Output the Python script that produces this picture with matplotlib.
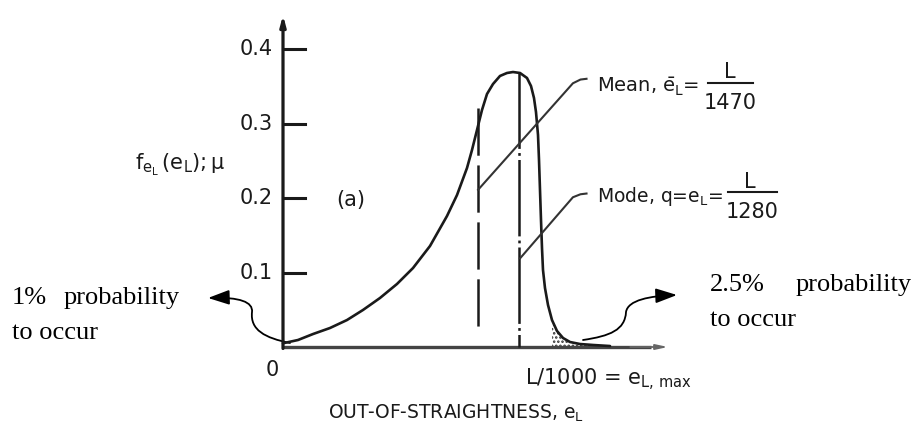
import matplotlib
matplotlib.use("Agg")
import matplotlib.pyplot as plt
from matplotlib.path import Path
from matplotlib.patches import FancyArrowPatch
import numpy as np

plt.rcParams['mathtext.default'] = 'regular'
plt.rcParams['lines.scale_dashes'] = False

# ---- data (x in units of L/1000, y = density * mu) ----
curve_x = [0.000, 0.0497, 0.0993, 0.1556, 0.2119, 0.2649, 0.3212, 0.3775, 0.4305, 0.4868,
           0.5430, 0.5762, 0.6093, 0.6258, 0.6424, 0.6589, 0.6755, 0.6954, 0.7185, 0.7417,
           0.7616, 0.7848, 0.8079, 0.8212, 0.8311, 0.8377, 0.8444, 0.8477, 0.8510, 0.8543,
           0.8576, 0.8609, 0.8675, 0.8775, 0.8907, 0.9073, 0.9272, 0.9503, 0.9834, 1.0265,
           1.0828]
curve_y = [0.005, 0.0094, 0.0174, 0.0255, 0.0362, 0.0497, 0.0658, 0.0846, 0.1060, 0.1356,
           0.1758, 0.2040, 0.2403, 0.2644, 0.2913, 0.3181, 0.3396, 0.3530, 0.3638, 0.3678,
           0.3691, 0.3678, 0.3611, 0.3503, 0.3342, 0.3154, 0.2846, 0.2510, 0.2107, 0.1705,
           0.1329, 0.1034, 0.0792, 0.0564, 0.0362, 0.0215, 0.0121, 0.0067, 0.0040, 0.0027,
           0.0013]
mean_x = 0.646
mean_top = 0.321
mode_x = 0.781
mode_top = 0.369
tail_start = 0.89
y_ticks = [0.1, 0.2, 0.3, 0.4]
y_tick_labels = ["0.1", "0.2", "0.3", "0.4"]

fig = plt.figure(figsize=(9.14, 4.30), dpi=100)
ax = fig.add_axes([0, 0, 1, 1])
ax.set_xlim(-283 / 302, (914 - 283) / 302)
ax.set_ylim((347 - 430) / 745, 347 / 745)
ax.axis('off')

ink = '#1a1a1a'
lead = '#333333'

# axes
ax.annotate('', xy=(0, 0.4456), xytext=(0, -0.002),
            arrowprops=dict(arrowstyle='-|>,head_length=0.6,head_width=0.16', lw=2.3, color=ink,
                            shrinkA=0, shrinkB=0))
ax.plot([-0.003, 1.22], [0, 0], color='#444444', lw=2.4, solid_capstyle='butt')
ax.annotate('', xy=(1.275, 0), xytext=(1.15, 0),
            arrowprops=dict(arrowstyle='-|>,head_length=0.7,head_width=0.15', lw=1.3, color='#666666',
                            shrinkA=0, shrinkB=0))
for t, lab in zip(y_ticks, y_tick_labels):
    ax.plot([0, 0.073], [t, t], color=ink, lw=2.2)
    ax.text(-0.033, t, lab, ha='right', va='center', fontsize=15, color=ink)
ax.text(-0.036, -0.031, "0", ha='center', va='center', fontsize=15, color=ink)

# curve
ax.plot(curve_x, curve_y, color=ink, lw=1.9, solid_joinstyle='round', solid_capstyle='round')

# tail stipple
cx = np.array(curve_x)
cy = np.array(curve_y)
m = cx >= tail_start
plt.rcParams['hatch.linewidth'] = 1.2
ax.fill_between(cx[m], 0, cy[m], facecolor='none', edgecolor='#333333', hatch='....', lw=0)

# mean (dashed) and mode (dash-dot) lines
l1, = ax.plot([mean_x, mean_x], [mean_top, 0.018], color=ink, lw=1.8)
l1.set_dashes([34, 7])
l2, = ax.plot([mode_x, mode_x], [mode_top, 0.0], color=ink, lw=1.8)
l2.set_dashes([55, 3, 2, 3])

# leader lines
ax.plot([mean_x, 0.960, 0.985, 1.005], [0.211, 0.354, 0.359, 0.360], color=lead, lw=1.5)
ax.plot([0.785, 0.960, 0.985, 1.005], [0.119, 0.201, 0.205, 0.206], color=lead, lw=1.5)

# right side labels
fs = 15
ax.text(1.040, 0.349, r"Mean, $\bar{e}_L$=", ha='left', va='center', fontsize=14, color=ink)
ax.text(1.480, 0.369, "L", ha='center', va='center', fontsize=fs, color=ink)
ax.plot([1.407, 1.556], [0.354, 0.354], color=ink, lw=1.5)
ax.text(1.480, 0.3275, "1470", ha='center', va='center', fontsize=fs, color=ink)

ax.text(1.040, 0.202, r"Mode, q=$e_L$=", ha='left', va='center', fontsize=13.5, color=ink)
ax.text(1.546, 0.222, "L", ha='center', va='center', fontsize=fs, color=ink)
ax.plot([1.473, 1.636], [0.208, 0.208], color=ink, lw=1.5)
ax.text(1.553, 0.181, "1280", ha='center', va='center', fontsize=fs, color=ink)

ax.text(0.225, 0.197, "(a)", ha='center', va='center', fontsize=15, color=ink)
ax.text(-0.341, 0.244, r"$f_{e_L}\,(e_L);\mu$", ha='center', va='center', fontsize=15, color=ink)

ax.text(0.801, -0.0443, r"L/1000 = $e_{L,\,max}$", ha='left', va='center', fontsize=15, color=ink)
ax.text(0.149, -0.0886, r"OUT-OF-STRAIGHTNESS, $e_L$", ha='left', va='center', fontsize=13.5,
        color=ink)

# annotation arrows
def curved_arrow(pts):
    codes = [Path.MOVETO, Path.CURVE4, Path.CURVE4, Path.CURVE4, Path.CURVE4, Path.CURVE4, Path.CURVE4]
    p = FancyArrowPatch(path=Path(pts, codes), arrowstyle='-|>,head_length=13,head_width=4.5',
                        color='black', lw=1.3, mutation_scale=1)
    ax.add_patch(p)

curved_arrow([(0.0232, 0.0054), (-0.0596, 0.0121), (-0.1093, 0.0228), (-0.1026, 0.0470),
              (-0.0993, 0.0604), (-0.1424, 0.0671), (-0.2483, 0.0658)])
curved_arrow([(0.9934, 0.0094), (1.0828, 0.0148), (1.1325, 0.0228), (1.1358, 0.0470),
              (1.1424, 0.0631), (1.2152, 0.0685), (1.3046, 0.0698)])

serif = 'Liberation Serif'
sfs = 19
ax.text(-0.897, 0.0658, "1%", ha='left', va='center', fontsize=sfs, family=serif)
ax.text(-0.341, 0.0658, "probability", ha='right', va='center', fontsize=sfs, family=serif)
ax.text(-0.897, 0.0188, "to occur", ha='left', va='center', fontsize=sfs, family=serif)
ax.text(1.414, 0.0832, "2.5%", ha='left', va='center', fontsize=sfs, family=serif)
ax.text(2.083, 0.0832, "probability", ha='right', va='center', fontsize=sfs, family=serif)
ax.text(1.414, 0.0362, "to occur", ha='left', va='center', fontsize=sfs, family=serif)

fig.savefig("out.png", dpi=100, facecolor='white')
